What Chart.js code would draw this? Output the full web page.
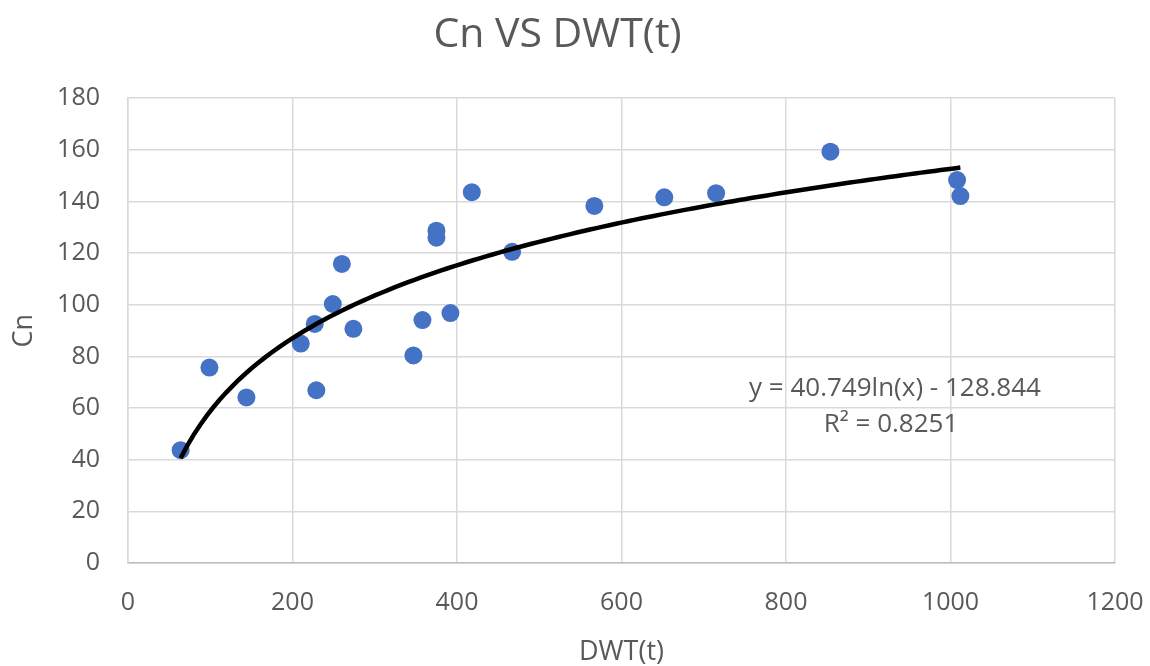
<!DOCTYPE html>
<html>
<head>
<meta charset="utf-8">
<title>Cn VS DWT(t)</title>
<script src="https://cdn.jsdelivr.net/npm/chart.js@4.4.1/dist/chart.umd.min.js"></script>
<style>
  html, body { margin: 0; padding: 0; background: #ffffff; }
  canvas { display: block; }
</style>
</head>
<body>
<canvas id="cnChart" width="1150" height="666"></canvas>
<script>
// Data
const dwt = [64, 99, 144, 210, 227, 229, 249, 260, 274, 347, 358, 375, 375, 392, 418, 467, 567, 652, 715, 854, 1008, 1012];
const cn = [43.7, 75.7, 64.1, 85.0, 92.6, 66.9, 100.3, 115.8, 90.7, 80.4, 94.1, 128.7, 126.0, 96.8, 143.6, 120.5, 138.3, 141.6, 143.2, 159.3, 148.3, 142.1];

// Logarithmic trendline as printed on the chart
const trendA = 40.749;
const trendB = -128.844;
const trendLabel = "y = 40.749ln(x) - 128.844";
const r2Label = "R² = 0.8251";

const xTicks = [0, 200, 400, 600, 800, 1000, 1200];
const yTicks = [0, 20, 40, 60, 80, 100, 120, 140, 160, 180];

const textColor = "#595959";
const gridColor = "#d9d9d9";
const fontFamily = "'Open Sans', 'Noto Sans', sans-serif";

document.addEventListener("DOMContentLoaded", function () {
  const points = dwt.map((x, i) => ({ x: x, y: cn[i] }));

  // evaluate the printed trendline between the smallest and largest DWT
  const xMin = Math.min(...dwt);
  const xMax = Math.max(...dwt);
  const trend = [];
  const steps = 120;
  for (let i = 0; i <= steps; i++) {
    const x = xMin + (xMax - xMin) * i / steps;
    trend.push({ x: x, y: trendA * Math.log(x) + trendB });
  }

  // equation label, drawn like Excel's trendline label
  const equationPlugin = {
    id: "equationLabel",
    afterDatasetsDraw(chart) {
      const ctx = chart.ctx;
      ctx.save();
      ctx.fillStyle = textColor;
      ctx.font = "26px " + fontFamily;
      ctx.textAlign = "center";
      ctx.textBaseline = "middle";
      ctx.fillText(trendLabel, 895, 389);
      ctx.fillText(r2Label, 891, 425);
      ctx.restore();
    }
  };

  new Chart(document.getElementById("cnChart").getContext("2d"), {
    type: "scatter",
    data: {
      datasets: [
        {
          label: "Trend",
          data: trend,
          showLine: true,
          borderColor: "#000000",
          borderWidth: 4.5,
          pointRadius: 0,
          tension: 0,
          order: 0
        },
        {
          label: "Cn",
          data: points,
          backgroundColor: "#4472c4",
          borderColor: "#4472c4",
          pointRadius: 9,
          pointBorderWidth: 0,
          order: 1
        }
      ]
    },
    options: {
      responsive: false,
      animation: false,
      devicePixelRatio: 1,
      layout: {
        padding: { left: 0, right: 35, top: 0, bottom: 0 }
      },
      plugins: {
        legend: { display: false },
        tooltip: { enabled: false },
        title: {
          display: true,
          text: "Cn VS DWT(t)",
          color: textColor,
          font: { family: fontFamily, size: 41, weight: "normal", lineHeight: 1.2 },
          padding: { top: 11, bottom: 38 }
        }
      },
      scales: {
        x: {
          type: "linear",
          min: xTicks[0],
          max: xTicks[xTicks.length - 1],
          afterBuildTicks: function (scale) {
            scale.ticks = xTicks.map(v => ({ value: v }));
          },
          afterFit: function (scale) {
            scale.height = 103;
            // tick label overhang is already covered by the layout padding
            scale.paddingLeft = 0;
            scale.paddingRight = 0;
          },
          grid: { color: gridColor, lineWidth: 1.5, drawTicks: false },
          border: { color: "#bfbfbf", width: 1.5 },
          ticks: {
            color: textColor,
            font: { family: fontFamily, size: 25 },
            padding: 25,
            maxRotation: 0,
            callback: function (value) {
              return String(value);
            }
          },
          title: {
            display: true,
            text: "DWT(t)",
            color: textColor,
            font: { family: fontFamily, size: 27 },
            padding: { top: 0, bottom: -3 }
          }
        },
        y: {
          type: "linear",
          min: yTicks[0],
          max: yTicks[yTicks.length - 1],
          afterBuildTicks: function (scale) {
            scale.ticks = yTicks.map(v => ({ value: v }));
          },
          afterFit: function (scale) {
            scale.width = 128;
          },
          grid: { color: gridColor, lineWidth: 1.5, drawTicks: false },
          border: { color: gridColor, width: 1.5 },
          ticks: {
            color: textColor,
            font: { family: fontFamily, size: 25 },
            padding: 28,
            callback: function (value) {
              return String(value);
            }
          },
          title: {
            display: true,
            text: "Cn",
            color: textColor,
            font: { family: fontFamily, size: 27 },
            padding: { top: 8, bottom: 0 }
          }
        }
      }
    },
    plugins: [equationPlugin]
  });
});
</script>
</body>
</html>
